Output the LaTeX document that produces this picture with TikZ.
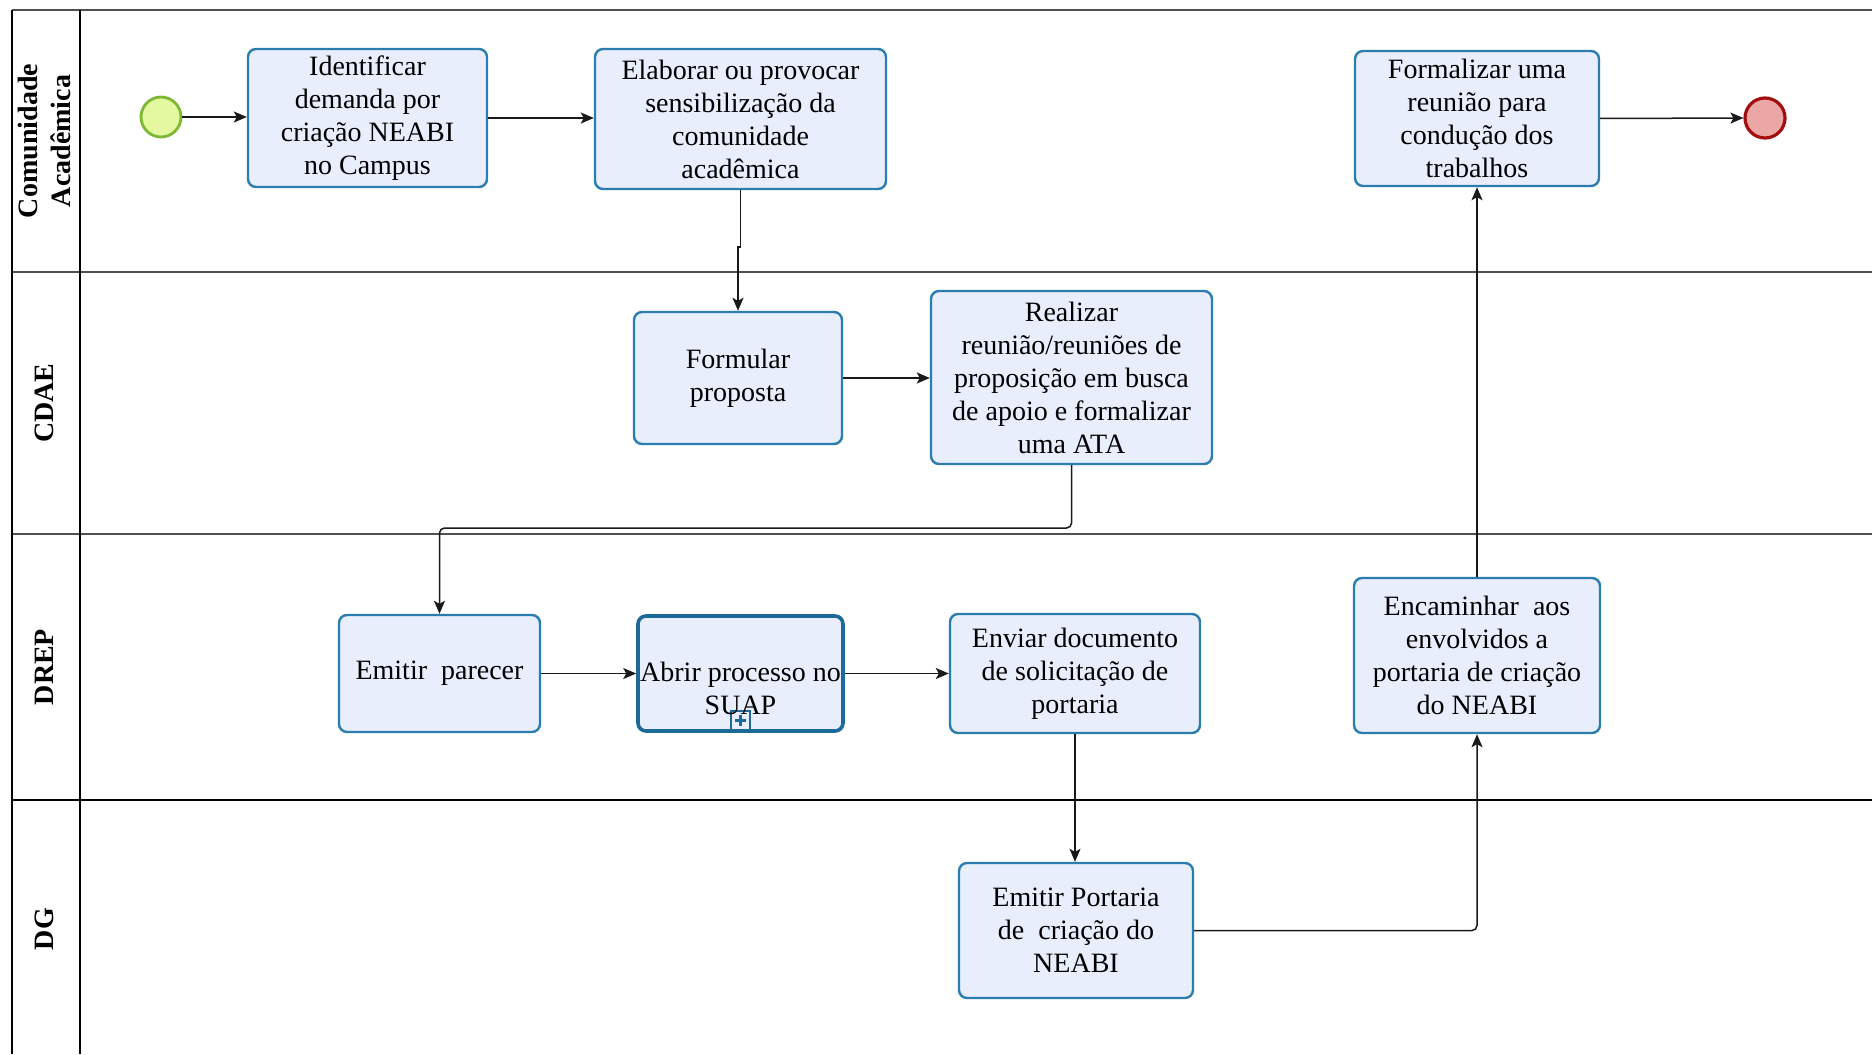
\documentclass[tikz,border=0pt]{standalone}
\usepackage{fontspec}
\setmainfont{Liberation Serif}
\usetikzlibrary{arrows.meta,calc}
\definecolor{boxfill}{HTML}{E9EEFD}
\definecolor{boxdraw}{HTML}{2B7DB0}
\definecolor{subdraw}{HTML}{1C6A98}
\definecolor{startfill}{HTML}{E4F8A0}
\definecolor{startdraw}{HTML}{7DB733}
\definecolor{endfill}{HTML}{EBA6A6}
\definecolor{enddraw}{HTML}{A30F0F}
\definecolor{laneline}{HTML}{505050}
\tikzset{
  task/.style={draw=boxdraw, fill=boxfill, line width=1.2pt, rounded corners=4pt,
    inner sep=0pt, align=center, font=\fontsize{14}{16.5}\selectfont},
  subtask/.style={task, draw=subdraw, line width=1.8pt},
  tasktext/.style={inner sep=0pt, align=center, font=\fontsize{14}{16.5}\selectfont},
  startev/.style={circle, draw=startdraw, fill=startfill, line width=1.4pt, minimum size=20pt, inner sep=0pt},
  endev/.style={circle, draw=enddraw, fill=endfill, line width=1.6pt, minimum size=20pt, inner sep=0pt},
  flow/.style={draw=black!90, line width=0.75pt, rounded corners=2.5pt,
    -{Stealth[length=6.5pt,width=5.5pt,inset=1.5pt]}},
  lanelabel/.style={rotate=90, align=center, font=\fontsize{14}{16.5}\selectfont\bfseries},
  laneln/.style={draw=laneline, line width=1.3pt}
}
\begin{document}
\begin{tikzpicture}[x=0.5pt,y=-0.5pt]
\useasboundingbox (0,0) rectangle (1872,1054);
% pool / lanes
\draw[laneln] (12,10) -- (1872,10);
\draw[laneln] (12,272) -- (1872,272);
\draw[laneln] (12,534) -- (1872,534);
\draw[draw=black, line width=1.4pt] (12,800) -- (1872,800);
\draw[black, line width=0.8pt] (12,10) -- (12,1054);
\draw[black, line width=0.8pt] (80,10) -- (80,1054);
% lane labels
\node[lanelabel] (l1) at (44,141) {Comunidade\\Acadêmica};
\node[lanelabel] (l2) at (44,403) {CDAE};
\node[lanelabel] (l3) at (44,667) {DREP};
\node[lanelabel] (l4) at (44,929) {DG};
% events
\node[startev] (start) at (161,117) {};
\node[endev] (end) at (1765,118) {};
% tasks
\node[task, minimum width=119.5pt, minimum height=69pt] (ident) at (367.5,118)
  {Identificar\\demanda por\\criação NEABI\\no Campus};
\node[task, minimum width=145.5pt, minimum height=70pt] (elab) at (740.5,119)
  {Elaborar ou provocar\\sensibilização da\\comunidade\\acadêmica};
\node[task, minimum width=122pt, minimum height=67.5pt] (formal) at (1477,118.5)
  {Formalizar uma\\reunião para\\condução dos\\trabalhos};
\node[task, minimum width=104pt, minimum height=66pt] (formul) at (738,378)
  {Formular\\proposta};
\node[task, minimum width=140.5pt, minimum height=86.5pt] (realiz) at (1071.5,377.5)
  {Realizar\\reunião/reuniões de\\proposição em busca\\de apoio e formalizar\\uma ATA};
\node[task, minimum width=100.5pt, minimum height=58.5pt] (parecer) at (439.5,673.5)
  {Emitir\ \ parecer};
\node[subtask, minimum width=102.5pt, minimum height=57.5pt] (abrir) at (740.5,673.5) {};
\node[task, minimum width=125pt, minimum height=59.5pt] (enviar) at (1075,673.5)
  {Enviar documento\\de solicitação de\\portaria};
\node[task, minimum width=123pt, minimum height=77.5pt] (encam) at (1477,655.5)
  {Encaminhar\ \ aos\\envolvidos a\\portaria de criação\\do NEABI};
\node[task, minimum width=117pt, minimum height=67.5pt] (portaria) at (1076,930.5)
  {Emitir Portaria\\de\ \ criação do\\NEABI};
% subprocess marker
\node[draw=subdraw, fill=boxfill, line width=0.9pt, minimum size=9.5pt, inner sep=0pt, anchor=south]
  (plus) at ($(abrir.south)+(0,-2)$) {};
\draw[subdraw, line width=1.7pt] ($(plus.center)+(-5.5,0)$) -- ($(plus.center)+(5.5,0)$)
  ($(plus.center)+(0,-5.5)$) -- ($(plus.center)+(0,5.5)$);
\node[tasktext] (abrirtxt) at ($(abrir.center)+(0,15)$) {Abrir processo no\\SUAP};
% connectors
\coordinate (j1a) at (740.5,247);
\coordinate (j1b) at (738,247);
\coordinate (j2) at (439.5,528);
\draw[flow] (start.east) -- (ident.west |- start.east);
\draw[flow] (ident.east) -- (ident.east -| elab.west);
\draw[flow, rounded corners=0pt] (elab.south) -- (j1a) -- (j1b) -- (formul.north);
\draw[flow] (formul.east) -- (formul.east -| realiz.west);
\draw[flow] (realiz.south) |- (j2) -- (parecer.north);
\draw[flow] (parecer.east) -- (abrir.west);
\draw[flow] (abrir.east) -- (enviar.west);
\draw[flow] (enviar.south) -- (enviar.south |- portaria.north);
\draw[flow] (portaria.east) -| (encam.south);
\draw[flow] (encam.north) -- (formal.south);
\draw[flow] (formal.east) -- (end.west);
\end{tikzpicture}
\end{document}
